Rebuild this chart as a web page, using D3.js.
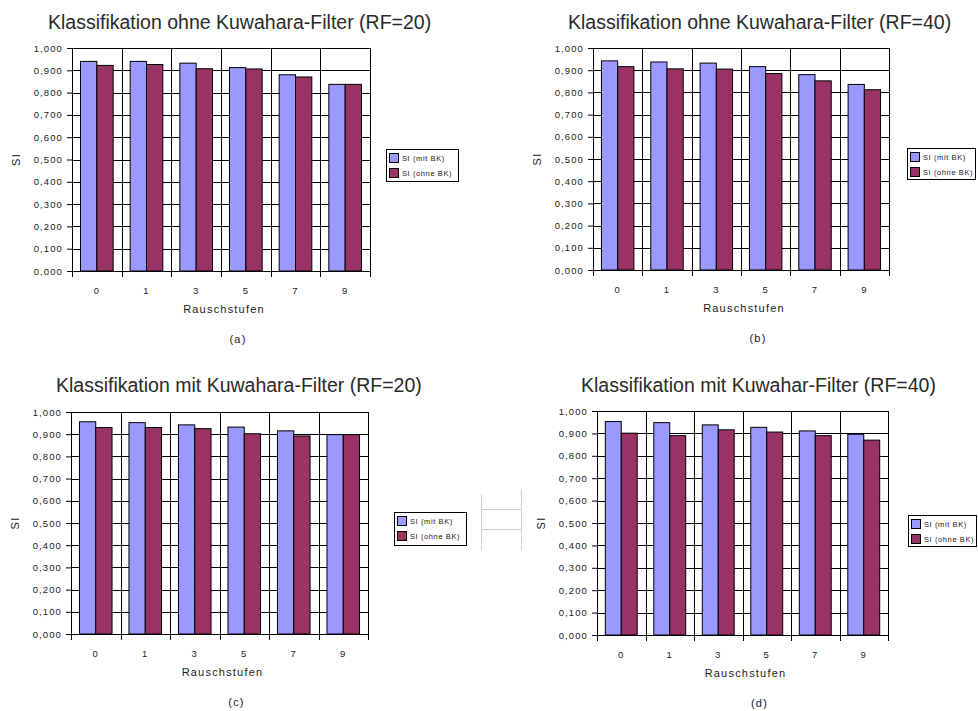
<!DOCTYPE html>
<html>
  <head>
    <title>Klassifikation Kuwahara-Filter</title>
    <script src="https://d3js.org/d3.v7.min.js"></script>
    <style>
      body { margin: 0; background: #fff; }
      text { font-family: "Liberation Sans", Arial, sans-serif; fill: #1a1a1a; }
      .title { font-size: 19.5px; fill: #2a2a2a; }
      .tick text { font-size: 9.5px; letter-spacing: 1.1px; }
      .axis-label { font-size: 11px; letter-spacing: 1.2px; }
      .legend text { font-size: 7.5px; letter-spacing: 0.6px; }
    </style>
  </head>
  <body>
    <svg width="978" height="711"></svg>

    <script>
      // data
      const categories = ["0", "1", "3", "5", "7", "9"];
      const seriesNames = ["SI (mit BK)", "SI (ohne BK)"];
      const seriesColors = ["#9999ff", "#993366"];
      const yTicks = [0, 0.1, 0.2, 0.3, 0.4, 0.5, 0.6, 0.7, 0.8, 0.9, 1.0];
      const titles = [
        "Klassifikation ohne Kuwahara-Filter (RF=20)",
        "Klassifikation ohne Kuwahara-Filter (RF=40)",
        "Klassifikation mit Kuwahara-Filter (RF=20)",
        "Klassifikation mit Kuwahar-Filter (RF=40)"
      ];
      const tags = ["(a)", "(b)", "(c)", "(d)"];

      const mitBK_a  = [0.940, 0.940, 0.932, 0.912, 0.880, 0.837];
      const ohneBK_a = [0.922, 0.926, 0.907, 0.906, 0.870, 0.837];
      const mitBK_b  = [0.942, 0.937, 0.932, 0.916, 0.880, 0.836];
      const ohneBK_b = [0.916, 0.906, 0.905, 0.885, 0.852, 0.812];
      const mitBK_c  = [0.956, 0.952, 0.942, 0.932, 0.915, 0.898];
      const ohneBK_c = [0.930, 0.930, 0.925, 0.902, 0.892, 0.898];
      const mitBK_d  = [0.953, 0.948, 0.938, 0.927, 0.911, 0.896];
      const ohneBK_d = [0.901, 0.890, 0.916, 0.906, 0.890, 0.870];

      const commaFmt = d => d3.format(".3f")(d).replace(".", ",");

      function barPanel(svg, props) {
        const { left, top, width, height, title, titleX, titleY, tag, mit, ohne, legend } = props;
        const g = svg.append("g").attr("transform", `translate(${left}, ${top})`);

        const x0 = d3.scaleBand().domain(categories).range([0, width]).padding(0);
        const x1 = d3.scaleBand().domain(seriesNames).range([0, x0.bandwidth()])
          .paddingInner(0).paddingOuter(0.52);
        const y = d3.scaleLinear().domain([0, 1]).range([height, 0]);

        // horizontal grid
        g.append("g")
          .attr("class", "grid")
          .call(d3.axisLeft(y).tickValues(yTicks).tickSize(-width).tickFormat(""))
          .call(s => s.select(".domain").remove())
          .selectAll("line").attr("stroke", "#000").attr("shape-rendering", "crispEdges");

        // vertical category boundaries (extend below as tick marks)
        const bounds = categories.map(c => x0(c)).concat([width]);
        g.append("g").selectAll("line").data(bounds).join("line")
          .attr("x1", d => Math.round(d) + 0.5).attr("x2", d => Math.round(d) + 0.5)
          .attr("y1", 0).attr("y2", height + 6)
          .attr("stroke", "#000");

        // bars
        const rows = categories.map((c, i) => ({ cat: c, values: [mit[i], ohne[i]] }));
        g.append("g").selectAll("g").data(rows).join("g")
          .attr("transform", d => `translate(${x0(d.cat)}, 0)`)
          .selectAll("rect").data(d => d.values.map((v, j) => ({ name: seriesNames[j], v, j })))
          .join("rect")
          .attr("x", d => x1(d.name))
          .attr("y", d => y(d.v))
          .attr("width", x1.bandwidth())
          .attr("height", d => height - y(d.v))
          .attr("fill", d => seriesColors[d.j])
          .attr("stroke", "#000")
          .attr("stroke-width", 1);

        // plot frame
        g.append("rect")
          .attr("x", 0.5).attr("y", 0.5).attr("width", width).attr("height", height)
          .attr("fill", "none").attr("stroke", "#000").attr("shape-rendering", "crispEdges");

        // y axis labels
        g.append("g")
          .call(d3.axisLeft(y).tickValues(yTicks).tickSize(5).tickPadding(4).tickFormat(commaFmt))
          .call(s => s.select(".domain").attr("stroke", "#000"))
          .selectAll("line").attr("stroke", "#000");

        // x axis labels
        g.append("g")
          .attr("transform", `translate(0, ${height})`)
          .call(d3.axisBottom(x0).tickSize(0).tickPadding(16))
          .call(s => s.select(".domain").remove());

        g.append("text").attr("class", "axis-label")
          .attr("x", width / 2 + 3).attr("y", height + 42)
          .attr("text-anchor", "middle").text("Rauschstufen");

        g.append("text").attr("class", "axis-label")
          .attr("transform", `translate(-52, ${height / 2}) rotate(-90)`)
          .attr("text-anchor", "middle").text("SI");

        g.append("text").attr("class", "axis-label")
          .attr("x", width / 2 + 17).attr("y", height + 72)
          .attr("text-anchor", "middle").text(tag);

        svg.append("text").attr("class", "title")
          .attr("x", titleX).attr("y", titleY).text(title);

        // legend
        const lg = svg.append("g").attr("class", "legend")
          .attr("transform", `translate(${legend.x}, ${legend.y})`);
        lg.append("rect")
          .attr("x", 0.5).attr("y", 0.5).attr("width", legend.w).attr("height", legend.h)
          .attr("fill", "#fff").attr("stroke", "#000").attr("shape-rendering", "crispEdges");
        const item = lg.selectAll(".item").data(seriesNames).join("g")
          .attr("class", "item")
          .attr("transform", (d, i) => `translate(3, ${4 + i * 15})`);
        item.append("rect")
          .attr("x", 0.5).attr("y", 0.5).attr("width", 9).attr("height", 9)
          .attr("fill", (d, i) => seriesColors[i]).attr("stroke", "#000");
        item.append("text").attr("x", 13).attr("y", 8).text(d => d);
      }

      function main() {
        const svg = d3.select("svg");
        svg.append("rect").attr("width", 978).attr("height", 711).attr("fill", "#fff");

        const panels = [
          { left: 72, top: 48, width: 298, height: 223, titleX: 48, titleY: 29, mit: mitBK_a, ohne: ohneBK_a,
            legend: { x: 386, y: 149, w: 72, h: 32 } },
          { left: 593, top: 48, width: 296, height: 222, titleX: 568, titleY: 29, mit: mitBK_b, ohne: ohneBK_b,
            legend: { x: 907, y: 148, w: 68, h: 31 } },
          { left: 71, top: 412, width: 297, height: 222, titleX: 56, titleY: 392, mit: mitBK_c, ohne: ohneBK_c,
            legend: { x: 394, y: 512, w: 72, h: 33 } },
          { left: 597, top: 411, width: 291, height: 224, titleX: 581, titleY: 392, mit: mitBK_d, ohne: ohneBK_d,
            legend: { x: 908, y: 515, w: 68, h: 31 } }
        ];
        panels.forEach((p, i) => barPanel(svg, Object.assign({ title: titles[i], tag: tags[i] }, p)));

        // faint scan artefact between the lower charts
        const art = svg.append("g").attr("stroke", "#cfcfcf").attr("fill", "none");
        art.append("line").attr("x1", 481.5).attr("x2", 481.5).attr("y1", 494).attr("y2", 550);
        art.append("line").attr("x1", 521.5).attr("x2", 521.5).attr("y1", 489).attr("y2", 550);
        art.append("line").attr("x1", 481).attr("x2", 522).attr("y1", 509.5).attr("y2", 509.5);
        art.append("line").attr("x1", 481).attr("x2", 522).attr("y1", 529.5).attr("y2", 529.5);
      }
      main();
    </script>
  </body>
</html>
